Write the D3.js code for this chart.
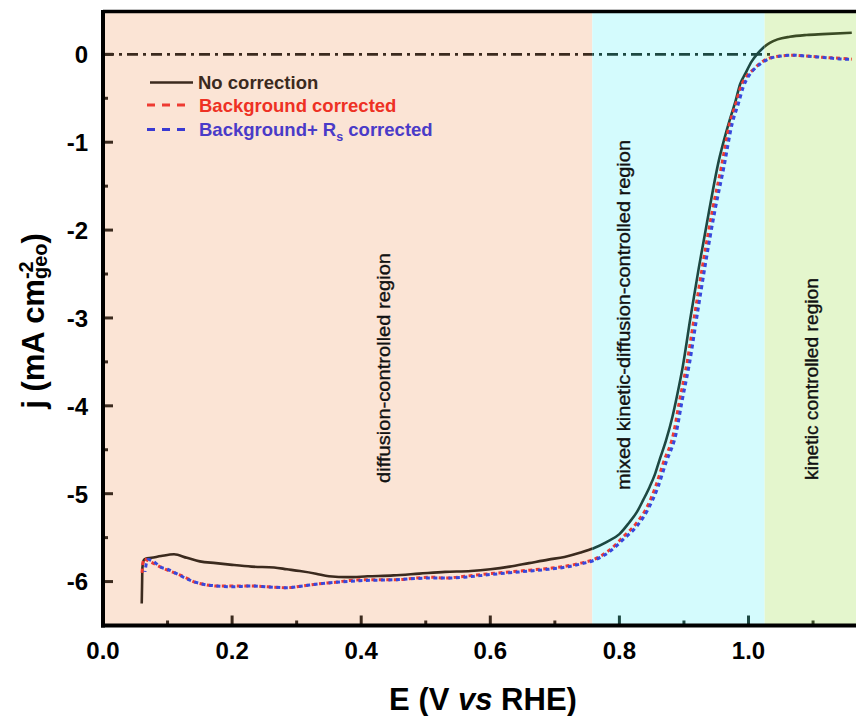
<!DOCTYPE html>
<html>
<head>
<meta charset="utf-8">
<script src="https://cdn.jsdelivr.net/npm/d3@7"></script>
<style>
  body { margin: 0; background: #fff; }
  svg { display: block; font-family: Arial, "Liberation Sans", Helvetica, sans-serif; }
</style>
</head>
<body>
<svg id="chart" width="856" height="716"></svg>
<script>
// ---- data: potential E (V vs RHE) and current density j (mA cm^-2) ----
const noCorrE = [0.060, 0.0605, 0.061, 0.063, 0.066, 0.075, 0.09, 0.11, 0.13, 0.15, 0.175, 0.20, 0.23, 0.265, 0.285, 0.305, 0.33, 0.35, 0.38, 0.41, 0.45, 0.49, 0.53, 0.57, 0.60, 0.63, 0.66, 0.69, 0.715, 0.74, 0.76, 0.78, 0.80, 0.815, 0.827, 0.837, 0.847, 0.855, 0.862, 0.872, 0.882, 0.890, 0.898, 0.910, 0.923, 0.939, 0.954, 0.963, 0.972, 0.980, 0.987, 0.995, 1.005, 1.013, 1.022, 1.033, 1.045, 1.064, 1.09, 1.115, 1.16];
const noCorrJ = [-6.25, -6.05, -5.85, -5.76, -5.74, -5.73, -5.71, -5.69, -5.73, -5.77, -5.79, -5.81, -5.83, -5.84, -5.86, -5.88, -5.91, -5.94, -5.95, -5.94, -5.93, -5.91, -5.89, -5.88, -5.86, -5.83, -5.79, -5.75, -5.72, -5.67, -5.62, -5.55, -5.46, -5.33, -5.21, -5.07, -4.92, -4.78, -4.62, -4.40, -4.13, -3.86, -3.56, -3.00, -2.43, -1.78, -1.21, -0.95, -0.72, -0.53, -0.34, -0.22, -0.08, 0.0, 0.07, 0.13, 0.17, 0.20, 0.22, 0.23, 0.245];

const bgCorrE = [0.0605, 0.062, 0.064, 0.067, 0.072, 0.08, 0.088, 0.10, 0.114, 0.127, 0.14, 0.155, 0.176, 0.20, 0.228, 0.255, 0.284, 0.31, 0.33, 0.357, 0.398, 0.45, 0.507, 0.532, 0.56, 0.60, 0.63, 0.661, 0.69, 0.713, 0.74, 0.76, 0.785, 0.806, 0.827, 0.845, 0.856, 0.868, 0.884, 0.893, 0.905, 0.916, 0.929, 0.944, 0.958, 0.971, 0.980, 0.988, 0.997, 1.008, 1.018, 1.03, 1.049, 1.069, 1.09, 1.116, 1.152, 1.16];
const bgCorrJ = [-5.90, -5.78, -5.74, -5.75, -5.77, -5.80, -5.83, -5.87, -5.91, -5.95, -6.00, -6.03, -6.05, -6.05, -6.05, -6.06, -6.07, -6.05, -6.03, -6.01, -5.98, -5.98, -5.95, -5.96, -5.94, -5.91, -5.89, -5.87, -5.85, -5.83, -5.79, -5.75, -5.64, -5.49, -5.33, -5.12, -4.92, -4.65, -4.31, -3.95, -3.50, -2.99, -2.40, -1.78, -1.28, -0.78, -0.57, -0.37, -0.25, -0.17, -0.10, -0.05, -0.02, -0.01, -0.02, -0.034, -0.05, -0.055];

const bgRsCorrE = [0.065, 0.067, 0.070, 0.075, 0.08, 0.088, 0.10, 0.114, 0.127, 0.14, 0.155, 0.176, 0.20, 0.228, 0.255, 0.284, 0.31, 0.33, 0.357, 0.398, 0.45, 0.507, 0.532, 0.56, 0.60, 0.63, 0.661, 0.69, 0.713, 0.74, 0.76, 0.785, 0.806, 0.827, 0.845, 0.86, 0.872, 0.888, 0.897, 0.909, 0.920, 0.933, 0.948, 0.962, 0.975, 0.984, 0.992, 1.0, 1.01, 1.02, 1.032, 1.05, 1.069, 1.09, 1.116, 1.152, 1.16];
const bgRsCorrJ = [-5.89, -5.80, -5.75, -5.76, -5.78, -5.83, -5.86, -5.91, -5.96, -6.00, -6.03, -6.05, -6.06, -6.05, -6.06, -6.07, -6.05, -6.03, -6.01, -5.99, -5.98, -5.96, -5.96, -5.95, -5.92, -5.90, -5.88, -5.86, -5.84, -5.80, -5.76, -5.66, -5.52, -5.37, -5.17, -4.92, -4.65, -4.31, -3.95, -3.50, -2.99, -2.40, -1.78, -1.28, -0.78, -0.57, -0.37, -0.25, -0.16, -0.10, -0.05, -0.02, -0.01, -0.02, -0.035, -0.055, -0.055];

// region boundaries (V) and their names
const regionBounds = [0, 0.758, 1.025, 1.17];
const regionNames = ["diffusion-controlled region", "mixed kinetic-diffusion-controlled region", "kinetic controlled region"];

// axis ticks
const xMajorTicks = [0.0, 0.2, 0.4, 0.6, 0.8, 1.0];
const xMinorTicks = [0.1, 0.3, 0.5, 0.7, 0.9, 1.1];
const yMajorTicks = [0, -1, -2, -3, -4, -5, -6];
const yMinorTicks = [-0.5, -1.5, -2.5, -3.5, -4.5, -5.5];

// ---- styles ----
const regionFills = ["#fbe4d5", "#d4fbfd", "#e4f6cd"];
const regionInk = ["#3b2a1e", "#1d4842", "#3a4b25"];   // dark ink as it appears over each band
const labelCenters = [{ y: 368, len: 230 }, { y: 315, len: 350 }, { y: 379, len: 202 }];
const labelX = [385, 625, 813];

const svg = d3.select("#chart");
const x = d3.scaleLinear().domain([0, 1.17]).range([103, 103 + 1.17 * 645.5]);
const y = d3.scaleLinear().domain([-6.5, 0.5]).range([625.5, 10.4]);

const plotTop = y(0.5), plotBottom = y(-6.5);
const inkAt = v => v < regionBounds[1] ? regionInk[0] : (v < regionBounds[2] ? regionInk[1] : regionInk[2]);

// background bands
const defs = svg.append("defs");
regionFills.forEach((fill, i) => {
  const x0 = x(regionBounds[i]), x1 = x(regionBounds[i + 1]);
  svg.append("rect").attr("x", x0).attr("y", plotTop).attr("width", x1 - x0)
    .attr("height", plotBottom - plotTop).attr("fill", fill);
  defs.append("clipPath").attr("id", "band" + i).append("rect")
    .attr("x", x0).attr("y", plotTop).attr("width", x1 - x0).attr("height", plotBottom - plotTop);
});

// region labels (rotated)
regionNames.forEach((name, i) => {
  svg.append("text")
    .attr("transform", `translate(${labelX[i]},${labelCenters[i].y}) rotate(-90)`)
    .attr("text-anchor", "middle").attr("dy", "0.27em")
    .attr("textLength", labelCenters[i].len).attr("lengthAdjust", "spacingAndGlyphs")
    .style("font-size", "17.5px").attr("fill", "#111")
    .attr("stroke", "#111").attr("stroke-width", 0.35).text(name);
});

// zero reference line (dash-dot), tinted per band
regionInk.forEach((ink, i) => {
  svg.append("line").attr("clip-path", `url(#band${i})`)
    .attr("x1", x(0)).attr("x2", x(1.037)).attr("y1", y(0)).attr("y2", y(0))
    .attr("stroke", ink).attr("stroke-width", 2.6).attr("stroke-dasharray", "11,5,3,5");
});

// ticks (inside)
const tickG = svg.append("g");
xMajorTicks.forEach(v => tickG.append("line").attr("x1", x(v)).attr("x2", x(v))
  .attr("y1", plotBottom).attr("y2", plotBottom - 10).attr("stroke", inkAt(v)).attr("stroke-width", 3));
xMinorTicks.forEach(v => tickG.append("line").attr("x1", x(v)).attr("x2", x(v))
  .attr("y1", plotBottom).attr("y2", plotBottom - 5).attr("stroke", inkAt(v)).attr("stroke-width", 3));
yMajorTicks.forEach(v => tickG.append("line").attr("x1", x(0)).attr("x2", x(0) + 10)
  .attr("y1", y(v)).attr("y2", y(v)).attr("stroke", regionInk[0]).attr("stroke-width", 3));
yMinorTicks.forEach(v => tickG.append("line").attr("x1", x(0)).attr("x2", x(0) + 5)
  .attr("y1", y(v)).attr("y2", y(v)).attr("stroke", regionInk[0]).attr("stroke-width", 3));

// curves
const line = d3.line().x(d => x(d[0])).y(d => y(d[1])).curve(d3.curveMonotoneX);
const zip = (a, b) => a.map((v, i) => [v, b[i]]);

regionInk.forEach((ink, i) => {
  svg.append("path").attr("clip-path", `url(#band${i})`)
    .datum(zip(noCorrE, noCorrJ)).attr("d", line)
    .attr("fill", "none").attr("stroke", ink).attr("stroke-width", 2.6);
});
svg.append("path").datum(zip(bgCorrE, bgCorrJ)).attr("d", line)
  .attr("fill", "none").attr("stroke", "#ee3a32").attr("stroke-width", 3).attr("stroke-dasharray", "4,3.5");
svg.append("path").datum(zip(bgRsCorrE, bgRsCorrJ)).attr("d", line)
  .attr("fill", "none").attr("stroke", "#3748dc").attr("stroke-width", 3)
  .attr("stroke-dasharray", "4,3.5").attr("stroke-dashoffset", 3);

// frame
svg.append("line").attr("x1", x(0)).attr("x2", 856).attr("y1", plotTop + 1).attr("y2", plotTop + 1)
  .attr("stroke", "#000").attr("stroke-width", 3.5);
svg.append("line").attr("x1", x(0)).attr("x2", x(0)).attr("y1", plotTop - 0.5).attr("y2", plotBottom + 2)
  .attr("stroke", "#000").attr("stroke-width", 4);
svg.append("line").attr("x1", x(0) - 2).attr("x2", 856).attr("y1", plotBottom).attr("y2", plotBottom)
  .attr("stroke", "#000").attr("stroke-width", 4);

// tick labels
svg.append("g").selectAll("text").data(xMajorTicks).join("text")
  .attr("x", d => x(d)).attr("y", plotBottom + 33).attr("text-anchor", "middle")
  .style("font-size", "24px").style("font-weight", "bold").attr("fill", "#000")
  .text(d => d.toFixed(1));
svg.append("g").selectAll("text").data(yMajorTicks).join("text")
  .attr("x", x(0) - 15).attr("y", d => y(d)).attr("dy", "0.37em").attr("text-anchor", "end")
  .style("font-size", "24px").style("font-weight", "bold").attr("fill", "#000")
  .text(d => String(d));

// axis titles
const xt = svg.append("text").attr("x", 483).attr("y", 710).attr("text-anchor", "middle")
  .style("font-size", "31px").style("font-weight", "bold").attr("fill", "#000");
xt.append("tspan").text("E (V ");
xt.append("tspan").style("font-style", "italic").text("vs");
xt.append("tspan").text(" RHE)");

const yt = svg.append("text").attr("transform", "translate(44,321) rotate(-90)")
  .attr("text-anchor", "middle").style("font-size", "31px").style("font-weight", "bold").attr("fill", "#000");
yt.append("tspan").text("j (mA cm");
const sup = yt.append("tspan").attr("dy", -11).style("font-size", "20px").text("-2");
const sub = yt.append("tspan").attr("dy", 14).style("font-size", "20px").text("geo");
yt.append("tspan").attr("dy", -3).text(")");
sub.attr("dx", -sup.node().getComputedTextLength());

// legend
const legend = svg.append("g").style("font-size", "18.5px").style("font-weight", "bold");
legend.append("line").attr("x1", 150).attr("x2", 193).attr("y1", 82.5).attr("y2", 82.5)
  .attr("stroke", regionInk[0]).attr("stroke-width", 2.6);
legend.append("text").attr("x", 198).attr("y", 88.5).attr("fill", "#3b2a1e").text("No correction");
legend.append("line").attr("x1", 147).attr("x2", 186).attr("y1", 105).attr("y2", 105)
  .attr("stroke", "#ee3a32").attr("stroke-width", 3).attr("stroke-dasharray", "8,7");
legend.append("text").attr("x", 199).attr("y", 111.5).attr("fill", "#ee3124").text("Background corrected");
legend.append("line").attr("x1", 147).attr("x2", 186).attr("y1", 129.5).attr("y2", 129.5)
  .attr("stroke", "#3a3ad2").attr("stroke-width", 3).attr("stroke-dasharray", "8,7");
const l3 = legend.append("text").attr("x", 199).attr("y", 136).attr("fill", "#4a3bc8");
l3.append("tspan").text("Background+ R");
l3.append("tspan").attr("dy", 5).style("font-size", "12.5px").text("s");
l3.append("tspan").attr("dy", -5).text(" corrected");
</script>
</body>
</html>
